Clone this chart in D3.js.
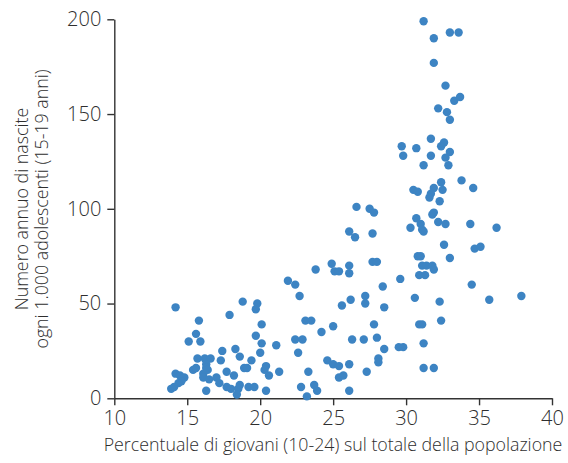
<!DOCTYPE html>
<html>
<head>
<meta charset="utf-8">
<script src="https://cdn.jsdelivr.net/npm/d3@7"></script>
<style>
  html, body { margin: 0; padding: 0; background: #fff; }
  svg { display: block; }
  .axis text { font-family: "Open Sans", sans-serif; font-weight: 300; font-size: 20px; fill: #2e2e2e; }
  .axis line, .axis path { stroke: #333; stroke-width: 1.4; }
  .title { font-family: "Open Sans", sans-serif; font-weight: 300; font-size: 17.8px; fill: #2e2e2e; }
</style>
</head>
<body>
<svg id="chart" width="568" height="463"></svg>
<script>
const xTicks = [10, 15, 20, 25, 30, 35, 40];
const yTicks = [0, 50, 100, 150, 200];
const xLabel = "Percentuale di giovani (10-24) sul totale della popolazione";
const yLabelLines = ["Numero annuo di nascite", "ogni 1.000 adolescenti (15-19 anni)"];

// Percentuale di giovani (x)
const youthShare = [
  14.2,15.8,15.6,15.1,15.9,18.8,19.8,19.7,17.9,20.1,19.7,20.1,21.1,17.4,18.3,20.0,
  15.7,16.2,16.6,17.3,18.6,19.4,15.4,15.6,16.3,16.3,16.1,16.4,17.7,18.9,19.1,20.4,
  20.3,20.6,21.3,14.2,14.5,14.8,14.6,14.4,14.1,13.9,16.1,16.5,17.0,17.2,17.7,18.0,
  18.2,18.6,18.5,18.4,19.2,19.6,20.4,16.3,
  26.6,27.5,27.8,26.1,26.5,27.7,27.7,28.0,24.9,25.1,25.4,26.1,26.1,23.8,21.9,22.4,
  22.7,28.4,27.2,27.2,26.2,25.6,28.5,23.1,23.5,25.0,24.2,27.8,28.0,22.4,22.9,22.6,
  26.3,27.1,28.5,29.5,29.8,28.1,28.1,24.6,25.0,25.4,26.1,23.3,25.4,25.7,27.3,22.8,
  23.7,23.9,23.2,26.1,
  30.5,30.8,30.7,30.3,30.8,29.6,30.6,30.9,
  31.2,31.9,33.0,33.6,31.9,32.7,33.3,33.7,32.2,32.8,33.0,31.7,29.7,29.8,30.7,32.4,
  32.6,31.7,33.0,32.7,31.2,32.9,32.4,33.8,34.6,31.9,31.7,31.6,32.5,32.3,31.9,31.8,
  31.0,31.1,31.2,32.2,32.7,34.4,36.2,32.6,34.7,35.1,33.0,31.0,31.1,31.4,31.8,31.9,
  30.9,31.3,34.5,32.3,35.7,37.9,31.1,32.4,31.2,31.2,31.9
];
// Nascite per 1.000 adolescenti (y)
const birthRate = [
  48,41,34,30,30,51,50,47,44,39,33,29,28,25,26,24,
  21,21,21,20,22,20,15,16,18,16,13,15,14,16,16,17,
  15,12,14,13,12,11,9,8,6,5,11,10,11,8,6,5,
  12,7,5,2,6,6,4,4,
  101,100,98,88,85,87,72,72,71,67,67,70,66,68,62,60,
  54,59,54,50,52,49,48,41,41,38,35,39,32,31,31,24,
  31,31,26,27,27,21,19,20,18,17,18,14,11,12,14,6,
  7,4,1,4,
  110,109,95,90,75,63,53,39,
  199,190,193,193,177,165,157,159,153,151,147,137,133,128,132,133,
  135,128,130,127,123,123,114,115,111,111,108,106,110,104,98,97,
  92,89,88,93,92,92,90,81,79,80,74,75,70,70,70,68,
  65,65,60,51,52,54,39,41,29,16,16
];

const svg = d3.select("#chart");
const x = d3.scaleLinear().domain([10, 40]).range([114.3, 552]);
const y = d3.scaleLinear().domain([0, 200]).range([398.3, 19.3]);

// Axes
svg.append("g")
  .attr("class", "axis")
  .attr("transform", `translate(0,${y(0)})`)
  .call(d3.axisBottom(x).tickValues(xTicks).tickSize(7).tickSizeOuter(0).tickPadding(6).tickFormat(d3.format("d")));

svg.append("g")
  .attr("class", "axis")
  .attr("transform", `translate(${x(10)},0)`)
  .call(d3.axisLeft(y).tickValues(yTicks).tickSize(7).tickSizeOuter(0).tickPadding(6).tickFormat(d3.format("d")));

// Points
const pts = youthShare.map((v, i) => ({ x: v, y: birthRate[i] }));
svg.append("g")
  .selectAll("circle")
  .data(pts)
  .join("circle")
  .attr("cx", d => x(d.x))
  .attr("cy", d => y(d.y))
  .attr("r", 4.2)
  .attr("fill", "#3d84c3");

// Titles
svg.append("text")
  .attr("class", "title")
  .attr("x", 333)
  .attr("y", 451)
  .attr("text-anchor", "middle")
  .text(xLabel);

const yl = svg.append("text")
  .attr("class", "title")
  .attr("transform", "translate(28,209) rotate(-90)")
  .attr("text-anchor", "middle");
yl.selectAll("tspan")
  .data(yLabelLines)
  .join("tspan")
  .attr("x", 0)
  .attr("dy", (d, i) => i === 0 ? 0 : 20)
  .text(d => d);
</script>
</body>
</html>
